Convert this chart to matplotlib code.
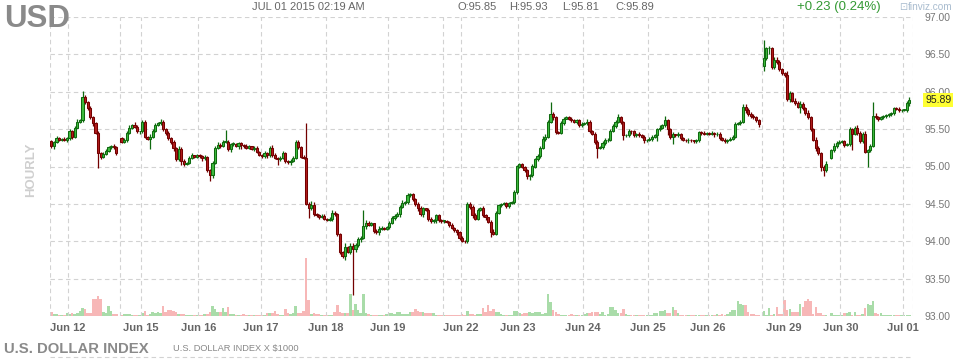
import matplotlib
matplotlib.use('Agg')
import matplotlib.pyplot as plt
from matplotlib.lines import Line2D
import numpy as np

plt.rcParams['font.family'] = ['Liberation Sans', 'DejaVu Sans']

# hourly closes, one row block per session (None = no bar)
close = [
    # Jun 11 (tail)
    95.27, 95.33, 95.38, 95.36, 95.37, 95.35, 95.38,
    # Jun 12
    95.47, 95.40, 95.52, 95.60, 95.62, 95.93, 95.86, 95.78, 95.66, 95.58,
    95.45, 95.18, 95.13, 95.17, 95.21, 95.26, 95.27, 95.26, 95.18, None,
    # Jun 14 (sunday evening)
    95.33, 95.36, 95.45, 95.52, 95.55, 95.53, 95.47, 95.47,
    # Jun 15
    95.60, 95.40, 95.37, 95.40, 95.48, 95.55, 95.58, 95.60, 95.50, 95.45, 95.38,
    95.33, 95.25, 95.10, 95.24, 95.08, 95.04, 95.05, 95.12, 95.15, 95.13, 95.15,
    # Jun 16
    95.14, 95.11, 95.13, 94.95, 94.89, 95.05, 95.25, 95.29, 95.28, 95.33, 95.33, 95.23,
    95.30, 95.30, 95.28, 95.31, 95.29, 95.28, 95.25, 95.27, 95.24, 95.25, 95.20, 95.15,
    # Jun 17
    95.14, 95.18, 95.15, 95.25, 95.16, 95.12, 95.10, 95.12, 95.18, 95.08, 95.06, 95.08, 95.12,
    95.33, 95.26, 95.13, 95.12, 94.50, 94.45, 94.49, 94.36, 94.35, 94.33, 94.34, 94.30,
    # Jun 18
    94.29, 94.30, 94.38, 94.36, 94.10, 93.85, 93.80, 93.92, 93.86, 93.94, 93.90, 93.95,
    94.03, 94.05, 94.20, 94.25, 94.22, 94.24, 94.14, 94.12, 94.17, 94.18, 94.17, 94.19,
    # Jun 19
    94.25, 94.31, 94.34, 94.36, 94.46, 94.51, 94.52, 94.62, 94.63, 94.56, 94.50,
    94.45, 94.36, 94.44, 94.42, 94.30, 94.27, 94.28, 94.35, 94.28, 94.27,
    # Jun 21 (sunday evening)
    94.27, 94.26, 94.22, 94.18, 94.15, 94.12, 94.05,
    # Jun 22
    94.01, 94.00, 94.50, 94.46, 94.35, 94.30, 94.42, 94.45, 94.35, 94.32, 94.26,
    94.12, 94.10, 94.38, 94.48, 94.50, 94.51, 94.47, 94.51, 94.52, 94.66, 95.00,
    # Jun 23
    95.03, 95.00, 94.95, 94.87, 94.88, 95.00, 95.10, 95.14, 95.25, 95.37, 95.40, 95.60, 95.70,
    95.66, 95.46, 95.45, 95.58, 95.64, 95.66, 95.64, 95.62, 95.60, 95.62, 95.55, 95.57,
    # Jun 24
    95.58, 95.60, 95.48, 95.44, 95.33, 95.25, 95.26, 95.32, 95.35, 95.36, 95.48, 95.54, 95.60,
    95.66, 95.60, 95.42, 95.42, 95.48, 95.47, 95.42, 95.44, 95.42, 95.40, 95.35, 95.36,
    # Jun 25
    95.37, 95.40, 95.42, 95.50, 95.52, 95.55, 95.62, 95.50, 95.40, 95.43, 95.42, 95.44,
    95.38, 95.36, 95.35, 95.36, 95.35, 95.34, 95.35, 95.46, 95.45, 95.44, 95.45,
    # Jun 26
    95.44, 95.45, 95.43, 95.44, 95.38, 95.36, 95.34, 95.36, 95.37, 95.40, 95.57,
    95.58, 95.60, 95.80, 95.75, 95.70, 95.68, 95.66, 95.62, 95.57, None,
    # Jun 28 (sunday evening)
    96.45, 96.58, 96.58, 96.33, 96.42, 96.40, 96.30, 96.25,
    # Jun 29
    96.22, 95.90, 95.98, 95.88, 95.85, 95.80, 95.84, 95.78, 95.72, 95.66, 95.50,
    95.36, 95.25, 95.18, 95.00, 94.95, 95.03, None, 95.22, 95.28, 95.32, 95.33,
    # Jun 30
    95.34, 95.29, 95.30, 95.50, 95.44, 95.52, 95.45, 95.34, 95.44, 95.20, 95.22, 95.28,
    95.68, 95.66, 95.64, 95.66, 95.67, 95.69, 95.70, 95.71, 95.78, 95.77, 95.75, 95.76,
    # Jul 01
    95.76, 95.85, 95.89,
]

# opens that differ from the previous close (session gaps)
gap_open = {0: 95.34, 27: 95.38, 274: 96.35, 300: 95.12}

# wick lengths beyond the body, in cents
up_wick = [
    2, 1, 3, 2, 1, 2, 2,
    3, 2, 2, 4, 2, 8, 3, 2, 3, 2, 1, 3, 2, 2, 3, 1, 2, 3, 2, 0,
    1, 2, 2, 3, 2, 4, 2, 1,
    2, 2, 1, 3, 2, 3, 2, 4, 2, 1, 2, 1, 2, 1, 3, 2, 2, 1, 2, 3, 1, 2,
    2, 1, 2, 1, 2, 3, 2, 4, 2, 3, 16, 2, 2, 3, 1, 2, 2, 1, 2, 2, 1, 2, 3, 1,
    2, 3, 1, 2, 4, 2, 1, 2, 3, 2, 1, 2, 2, 3, 2, 1, 2, 46, 2, 5, 3, 2, 1, 2, 2,
    1, 2, 4, 3, 2, 1, 2, 6, 2, 4, 3, 2, 3, 2, 22, 3, 2, 2, 1, 2, 3, 2, 1, 2,
    2, 3, 2, 3, 2, 4, 2, 3, 2, 1, 2, 3, 2, 2, 1, 2, 3, 2, 2, 1, 2,
    1, 2, 1, 2, 1, 1, 2,
    2, 1, 3, 2, 2, 3, 2, 1, 2, 2, 1, 2, 4, 2, 2, 1, 2, 2, 1, 2, 3, 2,
    2, 2, 1, 2, 2, 3, 2, 3, 2, 4, 3, 2, 16, 3, 2, 2, 3, 2, 2, 1, 2, 1, 2, 1, 2,
    2, 3, 2, 1, 2, 2, 1, 2, 3, 2, 2, 3, 2, 4, 2, 1, 2, 2, 1, 2, 1, 2, 1, 2, 1,
    2, 2, 1, 2, 3, 2, 5, 2, 2, 3, 1, 2, 1, 2, 1, 2, 1, 1, 2, 2, 1, 2, 1,
    1, 2, 1, 2, 2, 1, 2, 1, 2, 2, 3, 2, 2, 3, 4, 3, 3, 2, 2, 1, 0,
    24, 2, 3, 2, 4, 5, 2, 2,
    1, 6, 3, 2, 3, 2, 3, 2, 2, 3, 2, 2, 3, 2, 2, 2, 4, 0, 2, 3, 2, 2,
    2, 2, 2, 3, 2, 2, 3, 2, 2, 3, 2, 2, 18, 3, 2, 2, 2, 1, 2, 2, 2, 2, 2, 1,
    1, 2, 4,
]
down_wick = [
    2, 3, 1, 2, 2, 1, 2,
    2, 3, 2, 1, 2, 2, 3, 2, 2, 4, 2, 20, 3, 2, 2, 1, 2, 2, 3, 0,
    2, 2, 3, 2, 2, 1, 2, 3,
    2, 2, 2, 14, 2, 2, 1, 2, 2, 3, 2, 3, 4, 3, 2, 6, 3, 2, 1, 2, 2, 1,
    2, 3, 2, 3, 9, 5, 2, 2, 3, 2, 2, 2, 4, 3, 2, 5, 6, 3, 2, 2, 2, 3, 2, 1,
    2, 2, 3, 2, 3, 2, 8, 2, 2, 3, 2, 4, 2, 2, 3, 2, 2, 2, 14, 3, 2, 2, 3, 2, 2,
    2, 2, 3, 2, 3, 2, 3, 5, 2, 3, 62, 4, 3, 4, 2, 3, 2, 2, 3, 2, 3, 2, 2, 2,
    2, 2, 3, 2, 3, 2, 2, 2, 3, 2, 3, 5, 2, 3, 2, 3, 2, 2, 3, 2, 2,
    2, 2, 3, 2, 2, 3, 3,
    2, 3, 2, 3, 4, 2, 2, 2, 3, 3, 2, 6, 2, 2, 1, 2, 2, 2, 2, 1, 2, 3,
    2, 2, 3, 4, 5, 2, 2, 3, 2, 2, 3, 2, 2, 4, 3, 2, 2, 2, 1, 2, 2, 2, 3, 2, 2,
    2, 2, 3, 2, 3, 14, 2, 2, 3, 2, 2, 2, 2, 2, 3, 6, 2, 2, 3, 2, 2, 3, 2, 3, 2,
    2, 3, 2, 8, 3, 2, 2, 8, 3, 10, 2, 3, 2, 2, 2, 3, 2, 2, 2, 2, 3, 2, 2,
    2, 2, 3, 2, 3, 2, 2, 3, 2, 2, 2, 2, 3, 2, 3, 2, 3, 2, 3, 4, 0,
    7, 2, 8, 3, 2, 3, 2, 3,
    2, 3, 4, 2, 3, 2, 8, 2, 3, 2, 3, 2, 4, 3, 6, 8, 3, 0, 2, 2, 3, 2,
    2, 3, 2, 3, 22, 2, 3, 2, 3, 2, 20, 3, 2, 2, 3, 2, 2, 2, 3, 2, 2, 2, 2, 2,
    2, 3, 4,
]

# volume bars (chart units, same order as close)
volume = [
    4, 2, 2, 1, 1, 1, 3,
    2, 3, 2, 3, 5, 8, 7, 3, 3, 17, 17, 20, 17, 4, 3, 10, 5, 2, 2, 0,
    1, 2, 2, 2, 1, 1, 1, 1,
    3, 5, 1, 2, 4, 3, 4, 3, 10, 4, 6, 6, 5, 4, 2, 2, 2, 1, 1, 1, 1, 1,
    1, 1, 2, 2, 4, 10, 7, 4, 4, 8, 4, 9, 2, 2, 1, 1, 1, 2, 1, 1, 1, 1, 1, 1,
    1, 1, 3, 3, 3, 5, 2, 1, 1, 7, 3, 2, 3, 10, 3, 3, 5, 58, 16, 2, 3, 2, 2, 1, 1,
    1, 1, 1, 4, 11, 4, 3, 3, 3, 22, 6, 12, 6, 3, 22, 3, 2, 1, 1, 1, 1, 1, 1, 2,
    3, 3, 2, 4, 4, 2, 2, 2, 4, 4, 7, 5, 4, 4, 3, 3, 3, 3, 1, 1, 1,
    1, 1, 1, 1, 1, 1, 1,
    2, 1, 5, 2, 2, 1, 2, 2, 8, 4, 11, 5, 7, 4, 4, 2, 1, 1, 1, 1, 5, 5,
    3, 2, 3, 3, 4, 3, 4, 4, 4, 2, 3, 22, 14, 6, 4, 2, 1, 1, 1, 1, 2, 1, 1, 1, 1,
    2, 3, 3, 4, 4, 4, 2, 4, 1, 2, 9, 9, 6, 3, 3, 7, 2, 1, 1, 1, 1, 1, 1, 1, 1,
    1, 1, 3, 3, 5, 5, 6, 3, 3, 9, 6, 3, 1, 1, 1, 1, 1, 1, 1, 1, 1, 1, 1,
    1, 1, 1, 2, 1, 2, 1, 2, 4, 6, 6, 15, 12, 11, 11, 4, 2, 2, 1, 1, 0,
    5, 1, 8, 1, 2, 9, 2, 2,
    16, 6, 7, 4, 4, 4, 12, 9, 15, 17, 15, 2, 9, 3, 3, 1, 1, 0, 3, 1, 1, 1,
    1, 3, 3, 4, 1, 4, 1, 1, 2, 8, 12, 11, 15, 3, 2, 3, 1, 1, 1, 1, 1, 1, 1, 1,
    1, 1, 1,
]

# first bar of each session; labels for weekdays
session_start = [7, 27, 35, 57, 81, 106, 130, 151, 158, 180, 205, 230, 253, 274, 282, 304, 328]
label_pos = [7, 35, 57, 81, 106, 130, 158, 180, 205, 230, 253, 282, 304, 328]
label_txt = ['Jun 12', 'Jun 15', 'Jun 16', 'Jun 17', 'Jun 18', 'Jun 19', 'Jun 22',
             'Jun 23', 'Jun 24', 'Jun 25', 'Jun 26', 'Jun 29', 'Jun 30', 'Jul 01']
price_ticks = [93.0, 93.5, 94.0, 94.5, 95.0, 95.5, 96.0, 96.5, 97.0]

n = len(close)
x = np.arange(n)
c = np.array([np.nan if v is None else v for v in close])
o = np.empty(n)
for i in range(n):
    o[i] = gap_open[i] if i in gap_open else c[i - 1]
hi = np.fmax(o, c) + np.array(up_wick) / 100.0
lo = np.fmin(o, c) - np.array(down_wick) / 100.0
ok = ~np.isnan(c)
up = c >= o

W, H = 955, 362
fig = plt.figure(figsize=(W / 100, H / 100), dpi=100)
ax = fig.add_axes([50 / W, 46 / H, 863 / W, 299 / H])

# volume underneath
axv = ax.twinx()
vcol = np.where(up, '#a9dca9', '#f7b7b7')
axv.bar(x, volume, width=0.95, color=vcol, linewidth=0)
axv.set_ylim(0, 299)
axv.axis('off')
ax.set_zorder(axv.get_zorder() + 1)
ax.patch.set_visible(False)

grid_kw = dict(color='#d2d2d2', lw=0.8, linestyle=(0, (4, 3)), zorder=1)
for p in price_ticks:
    ax.axhline(p, **grid_kw)
for s in session_start:
    ax.axvline(s - 0.5, **grid_kw)
ax.axvline(-0.5, **grid_kw)
ax.axvline(n + 0.4, **grid_kw)

# candles
face = np.where(up, '#3dbb3d', '#b11d1d')
edge = np.where(up, '#0f6a0f', '#730000')
ax.vlines(x[ok], lo[ok], hi[ok], colors=edge[ok], lw=0.9, zorder=3)
body_bot = np.fmin(o, c)
body_h = np.maximum(np.abs(c - o), 0.008)
ax.bar(x[ok], body_h[ok], bottom=body_bot[ok], width=0.8, color=face[ok],
       edgecolor=edge[ok], linewidth=0.75, zorder=4)

ax.set_xlim(-0.5, n + 0.4)
ax.set_ylim(93.0, 97.0)
for sp in ax.spines.values():
    sp.set_visible(False)

ax.yaxis.tick_right()
ax.set_yticks(price_ticks)
ax.set_yticklabels(['%.2f' % p for p in price_ticks])
ax.tick_params(axis='y', length=0, pad=8.5, labelsize=7.5, labelcolor='#777777')
ax.set_xticks([p - 0.5 for p in label_pos])
ax.set_xticklabels(label_txt, fontweight='bold')
ax.tick_params(axis='x', length=0, pad=5, labelsize=8, labelcolor='#666666')

# last price box
last = c[-1]
ax.annotate('%.2f' % last, xy=(1, last), xycoords=('axes fraction', 'data'),
            xytext=(12, 0), textcoords='offset pixels', ha='left', va='center',
            fontsize=7.5, color='#222222', zorder=10,
            bbox=dict(boxstyle='square,pad=0.2', fc='#ffff33', ec='none'))

# header / footer text
def fx(px):
    return px / W

def fy(py):
    return 1 - py / H

fig.text(fx(4), fy(27), 'USD', fontsize=22.5, fontweight='bold', color='#8a8a8a', va='baseline')
fig.text(fx(252), fy(7), 'JUL 01 2015 02:19 AM', fontsize=8, color='#666666', va='center')
ohlc = ['O:%.2f' % o[-1], 'H:%.2f' % hi[-1], 'L:%.2f' % lo[-1], 'C:%.2f' % c[-1]]
for px, t in zip([457, 509, 562, 615], ohlc):
    fig.text(fx(px), fy(7), t, fontsize=8, color='#666666', va='center')
fig.text(fx(797), fy(7), '+0.23 (0.24%)', fontsize=9.5, color='#339933', va='center')
fig.text(fx(899), fy(7), '\u22a1', fontsize=7, color='#a9bccf', va='center', family='DejaVu Sans')
fig.text(fx(908), fy(7), 'finviz.com', fontsize=7.2, color='#a9bccf', va='center')
fig.text(fx(31), fy(170), 'HOURLY', fontsize=9.5, fontweight='bold', color='#cfcfcf',
         rotation=90, ha='center', va='center')
fig.text(fx(4), fy(353), 'U.S. DOLLAR INDEX', fontsize=10.7, fontweight='bold',
         color='#8a8a8a', va='baseline')
fig.text(fx(173), fy(349), 'U.S. DOLLAR INDEX X $1000', fontsize=6.7, color='#888888', va='center')
fig.add_artist(Line2D([fx(50), fx(913)], [fy(357), fy(357)], color='#d2d2d2', lw=0.8,
                      linestyle=(0, (4, 3))))

fig.savefig('out.png', dpi=100)
